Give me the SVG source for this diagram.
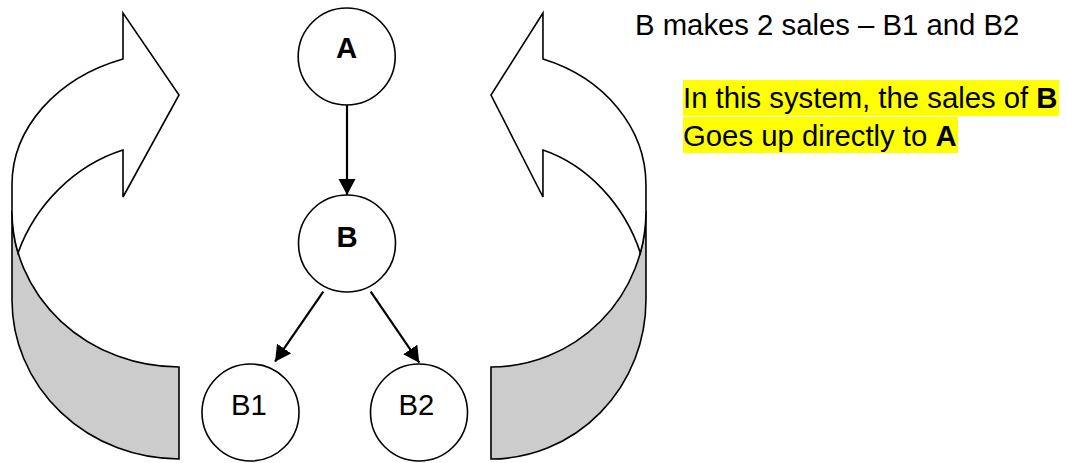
<svg xmlns="http://www.w3.org/2000/svg" width="1067" height="463" viewBox="0 0 1067 463">
  <style>
    .node { fill: #ffffff; stroke: #000000; stroke-width: 1.6; }
    .lbl { font-family: "Liberation Sans", Arial, sans-serif; font-size: 29.3px; fill: #000000; text-anchor: middle; }
    .bold { font-weight: bold; }
    .txt { font-family: "Liberation Sans", Arial, sans-serif; font-size: 29.3px; fill: #000000; }
    .conn { stroke: #000000; stroke-width: 2.2; fill: none; }
    .back { fill: #cccccc; stroke: #000000; stroke-width: 1.6; stroke-linejoin: miter; vector-effect: non-scaling-stroke; }
    .front { fill: #ffffff; stroke: #000000; stroke-width: 1.6; stroke-linejoin: miter; vector-effect: non-scaling-stroke; }
    .hl { fill: #ffff00; }
  </style>
  <defs>
    <marker id="arrow" markerUnits="userSpaceOnUse" markerWidth="18" markerHeight="18" refX="16" refY="9" orient="auto">
      <path d="M0,0.5 L16,9 L0,17.5 Z" fill="#000000"/>
    </marker>
    <g id="curvedArrow">
      <path class="back" d="M12,211 A167,156 0 0 0 179,367 L179,459 A167,159 0 0 1 12,300 Z"/>
      <path class="front" d="M123,59 L123,13 L179,95 L123,197 L123,150 C75,165 35,205 18,253 A167,156 0 0 1 12,211 L12,185 A167,133.5 0 0 1 123,59 Z"/>
    </g>
  </defs>

  <g id="leftCurvedArrow">
    <use href="#curvedArrow"/>
  </g>
  <g id="rightCurvedArrow">
    <use href="#curvedArrow" transform="matrix(-0.928 0 0 1 657.1 0)"/>
  </g>

  <g id="connectors">
    <line class="conn" x1="347" y1="98" x2="347" y2="195" marker-end="url(#arrow)"/>
    <line class="conn" x1="323.3" y1="291.7" x2="275" y2="361.7" marker-end="url(#arrow)"/>
    <line class="conn" x1="370.7" y1="291.7" x2="419.3" y2="362.7" marker-end="url(#arrow)"/>
  </g>

  <g id="nodeA">
    <circle class="node" cx="346.7" cy="56.5" r="48.5"/>
    <text class="lbl bold" x="346.7" y="58.3">A</text>
  </g>
  <g id="nodeB">
    <circle class="node" cx="347" cy="243.5" r="48.5"/>
    <text class="lbl bold" x="347" y="246.7">B</text>
  </g>
  <g id="nodeB1">
    <circle class="node" cx="250.5" cy="412.5" r="48.5"/>
    <text class="lbl" x="249" y="415">B1</text>
  </g>
  <g id="nodeB2">
    <circle class="node" cx="419" cy="412.5" r="48.5"/>
    <text class="lbl" x="416.5" y="415">B2</text>
  </g>

  <g id="notes">
    <text class="txt" x="635" y="35">B makes 2 sales – B1 and B2</text>
    <rect class="hl" x="683" y="80" width="376" height="36"/>
    <rect class="hl" x="683" y="117" width="275" height="36"/>
    <text class="txt" x="683" y="108">In this system, the sales of <tspan font-weight="bold">B</tspan></text>
    <text class="txt" x="683" y="145.7">Goes up directly to <tspan font-weight="bold">A</tspan></text>
  </g>
</svg>
